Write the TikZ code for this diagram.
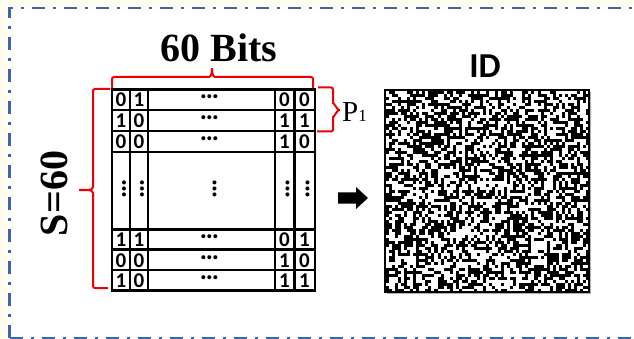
\documentclass[tikz,border=0pt]{standalone}
\usepackage{fontspec}
\setmainfont{Liberation Serif}
\newfontfamily\calfont{Carlito}
\definecolor{cream}{RGB}{255,253,240}
\definecolor{frameblue}{RGB}{62,100,170}
\definecolor{bracered}{RGB}{240,0,0}
\tikzset{
  frameline/.style={draw=frameblue,line width=2.5pt,dash pattern=on 13pt off 8pt on 3pt off 8pt},
  gridline/.style={draw=black,line width=2.8pt},
  bracket/.style={draw=bracered,line width=2pt,rounded corners=2pt},
  bit/.style={inner sep=0pt,font=\calfont\bfseries\fontsize{21}{21}\selectfont},
  dots/.style={inner sep=0pt,font=\calfont\bfseries\fontsize{27}{27}\selectfont},
  vdots/.style={dots,rotate=90},
}
\begin{document}
\begin{tikzpicture}[x=1pt,y=-1pt]
\useasboundingbox (0,0) rectangle (634,339);
\fill[cream] (0,0) rectangle (634,339);
\fill[white] (8,7) rectangle (634,339);
\draw[frameline] (9.5,338) -- (9.5,8) -- (650,8);
\draw[frameline] (9.5,338) -- (650,338);

% grid
\draw[gridline] (112,89.5) rectangle (315,290.5);
\foreach \x in {130,148,275,294.5}{\draw[gridline] (\x,89.5) -- (\x,290.5);}
\foreach \y in {110,131,152,229.5,249.5,270}{\draw[gridline] (112,\y) -- (315,\y);}

% bits
\foreach \r/\y/\a/\b/\c/\d in {1/100/0/1/0/0, 2/121/1/0/1/1, 3/142/0/0/1/0, 5/240/1/1/0/1, 6/260.5/0/0/1/0, 7/281/1/0/1/1}{
  \node[bit] (b\r a) at (121,\y) {\a};
  \node[bit] (b\r b) at (139,\y) {\b};
  \node[dots] (b\r m) at (209.5,\y-3) {…};
  \node[bit] (b\r c) at (284.5,\y) {\c};
  \node[bit] (b\r d) at (304.5,\y) {\d};
}
\foreach \n/\x in {a/121,b/139,m/211.5,c/284.5,d/304.5}{
  \node[vdots] (v\n) at (\x+3,189) {…};
}

% braces
\draw[bracket] (112,88) -- (112,77) -- (207,77) to[out=0,in=-90] (212,67) to[out=-90,in=180] (217,77) -- (313,77) -- (313,88);
\draw[bracket] (110,89) -- (93,89) -- (93,185) to[out=-90,in=0] (78,190) to[out=0,in=90] (93,195) -- (93,288) -- (108,288);
\draw[bracket] (318,87.5) -- (333,87.5) -- (333,105) to[out=90,in=180] (341,110) to[out=180,in=-90] (333,115) -- (333,131.5) -- (317,131.5);

% labels
\node[anchor=base,inner sep=0pt,font=\bfseries\fontsize{40}{40}\selectfont] (bits) at (219,62) {60 Bits};
\node[anchor=base,rotate=90,inner sep=0pt,font=\bfseries\fontsize{40}{40}\selectfont] (s) at (67,193.5) {S=60};
\node[anchor=base west,inner sep=0pt,font=\fontsize{29}{29}\selectfont] (p1) at (342,121.5) {P{\fontsize{17}{17}\selectfont 1}};

% arrow
\coordinate (arr) at (353,198);
\fill[black] (338,192.5) -- (356,192.5) -- (356,187) -- (368,198) -- (356,209) -- (356,203.5) -- (338,203.5) -- cycle;

% ID image
\fill[black!30] (387,92) rectangle (591,294);
\node[fill=white,draw=black,line width=1.2pt,minimum width=204pt,minimum height=202pt,inner sep=0pt] (idbox) at (487,191) {};
\pgfmathsetseed{11}
\foreach \i in {0,...,66}{
  \foreach \j in {0,...,66}{
    \pgfmathtruncatemacro\bw{rnd<0.5}
    \ifnum\bw=1 \fill (386+\i*3.03,91+\j*3) rectangle ++(3.03,3);\fi
  }
}
\draw[black,line width=1.2pt] (idbox.north west) rectangle (idbox.south east);
\node[anchor=base,inner sep=0pt,font=\calfont\bfseries\fontsize{35}{35}\selectfont] (id) at (485,78) {ID};
\end{tikzpicture}
\end{document}
